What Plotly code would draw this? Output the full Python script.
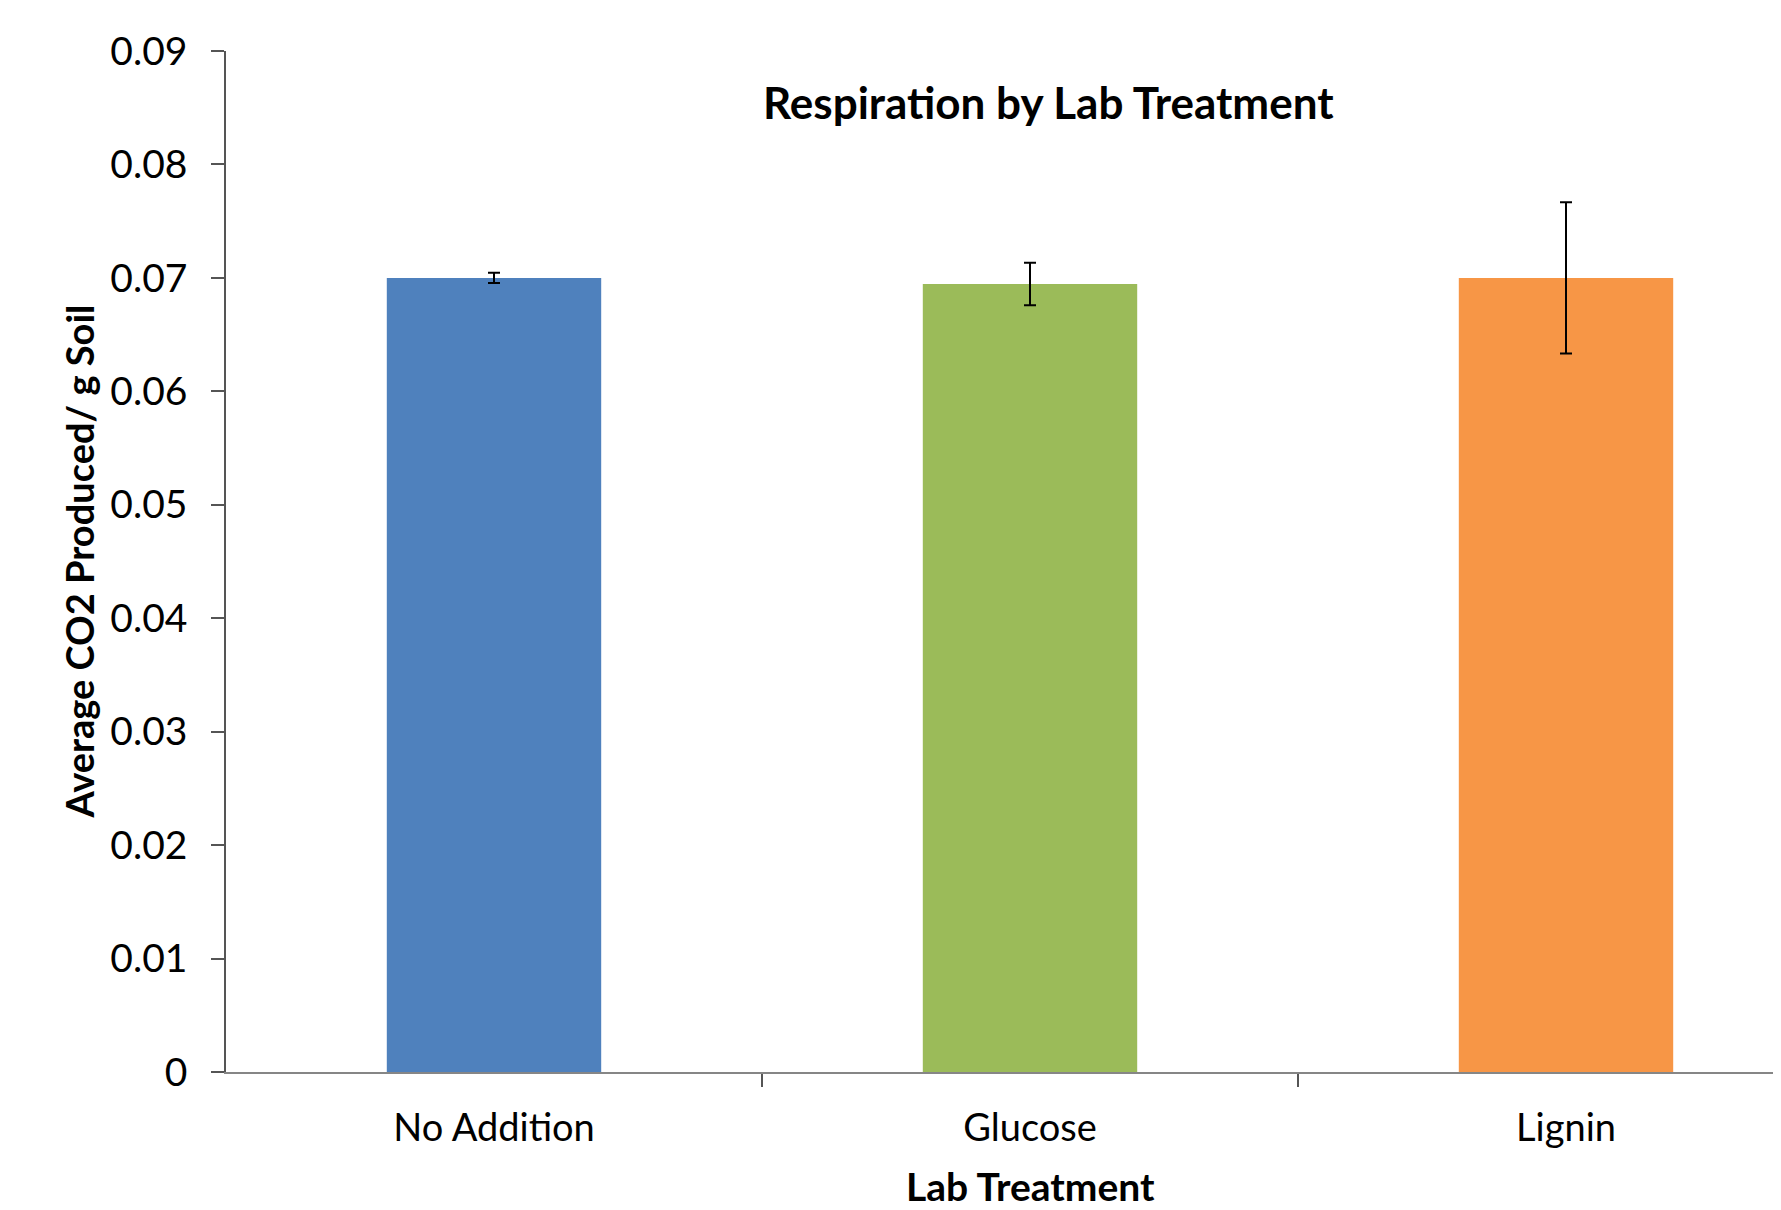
import plotly.graph_objects as go

categories = ["No Addition", "Glucose", "Lignin"]
values = [0.0700, 0.06946, 0.0700]
errors = [0.00045, 0.00187, 0.00667]
colors = ["#4F81BD", "#9BBB59", "#F79646"]
y_ticks = [0, 0.01, 0.02, 0.03, 0.04, 0.05, 0.06, 0.07, 0.08, 0.09]
y_tick_text = ["0", "0.01", "0.02", "0.03", "0.04", "0.05", "0.06", "0.07", "0.08", "0.09"]

FONT = "Lato"
xpos = list(range(len(categories)))

fig = go.Figure()
fig.add_trace(go.Bar(
    x=xpos, y=values, width=0.4,
    marker=dict(color=colors, line=dict(width=0)),
    error_y=dict(type="data", array=errors, visible=True, color="black", thickness=2, width=6),
    showlegend=False,
))

# page body has an 8px margin; size the figure to fit the 1781x1210 window
OFF = 8
W, H = 1781 - OFF, 1210 - OFF
L, R, T = 226 - OFF, 0, 51 - OFF
B = H - (1072 - OFF)
pw = W - L - R
ph = H - T - B
fig.update_layout(
    width=W, height=H,
    margin=dict(l=L, r=R, t=T, b=B),
    paper_bgcolor="white", plot_bgcolor="white",
    font=dict(family=FONT, color="black", size=39),
    xaxis=dict(
        range=[-0.5, -0.5 + pw / 536.0],
        tickmode="array", tickvals=xpos, ticktext=categories,
        ticks="", showgrid=False, zeroline=False,
        showline=True, linecolor="#868686", linewidth=2,
        tickfont=dict(family=FONT, size=38, color="black"),
        ticklabelstandoff=21,
        minor=dict(tickmode="array", tickvals=[0.5, 1.5], ticks="outside", ticklen=13,
                   tickcolor="#555555", tickwidth=1.5, showgrid=False),
    ),
    yaxis=dict(
        range=[0, 0.09],
        tickmode="array", tickvals=y_ticks, ticktext=y_tick_text,
        ticks="outside", ticklen=13, tickcolor="#555555", tickwidth=1.5,
        showgrid=False, zeroline=False,
        showline=True, linecolor="#555555", linewidth=1.5,
        tickfont=dict(family=FONT, size=39, color="black"),
        ticklabelstandoff=16,
    ),
)

fig.add_annotation(text="<b>Respiration by Lab Treatment</b>", xref="paper", yref="paper",
                   x=(1048 - 226) / pw, y=1 - (102 - 51) / ph, xanchor="center", yanchor="middle",
                   showarrow=False, font=dict(family=FONT, size=44, color="black"))
fig.add_annotation(text="<b>Lab Treatment</b>", xref="paper", yref="paper",
                   x=(1030 - 226) / pw, y=-(1186 - 1072) / ph, xanchor="center", yanchor="middle",
                   showarrow=False, font=dict(family=FONT, size=39, color="black"))
fig.add_annotation(text="<b>Average CO2 Produced/ g Soil</b>", xref="paper", yref="paper",
                   x=(78 - 226) / pw, y=0.5, xanchor="center", yanchor="middle", textangle=-90,
                   showarrow=False, font=dict(family=FONT, size=38, color="black"))

fig.write_html("out.html")
